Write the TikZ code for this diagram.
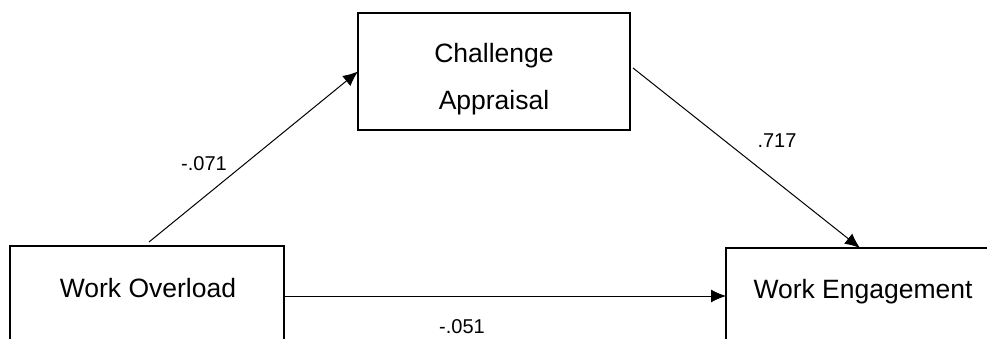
\documentclass[tikz,border=0pt]{standalone}
\usepackage{fontspec}
\setmainfont{Liberation Sans}
\usetikzlibrary{arrows.meta}
\begin{document}
\begin{tikzpicture}[x=1pt,y=-1pt,
  box/.style={draw,line width=2.8pt,rectangle,inner sep=0pt,outer sep=0pt,anchor=north west},
  lbl/.style={font=\fontsize{26.5}{30}\selectfont,inner sep=0pt,anchor=base},
  coef/.style={font=\fontsize{20}{23}\selectfont,inner sep=0pt,anchor=base},
  arr/.style={line width=1pt,-{Latex[length=15pt,width=13pt]}}]
\useasboundingbox (0,0) rectangle (987,339);
\clip (0,0) rectangle (987,339);
% boxes
\node[box,minimum width=272pt,minimum height=117pt] (ca) at (358,13) {};
\node[box,minimum width=274pt,minimum height=200pt] (wo) at (10,246) {};
\node[box,minimum width=300pt,minimum height=200pt] (we) at (726,248) {};
% texts
\node[lbl] (catxt1) at (494,63) {Challenge};
\node[lbl] (catxt2) at (494,110) {Appraisal};
\node[lbl] (wotxt) at (148,297) {Work Overload};
\node[lbl] (wetxt) at (863,298) {Work Engagement};
% coefficients
\node[coef] (c1) at (204,171) {-.071};
\node[coef] (c2) at (777,148) {.717};
\node[coef] (c3) at (462,333) {-.051};
% connectors
\coordinate (s1) at (149,242);
\coordinate (s2) at (633,68);
\coordinate (t2) at (860,248);
\coordinate (s3) at (285,296);
\draw[arr] (s1) -- (ca.west);
\draw[arr] (s2) -- (t2);
\draw[arr] (s3) -- (s3 -| we.west);
\end{tikzpicture}
\end{document}
